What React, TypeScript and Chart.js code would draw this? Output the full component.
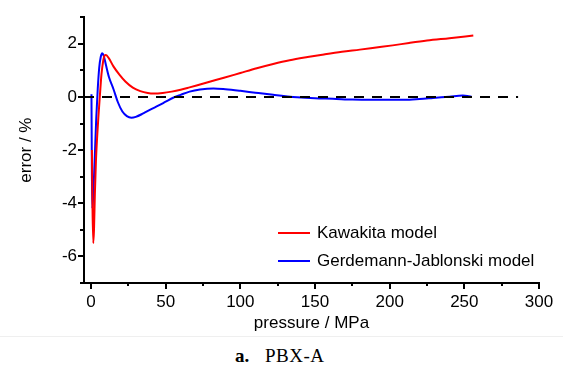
import { useEffect, useRef } from 'react';
import { Chart, registerables } from 'chart.js';

Chart.register(...registerables);

const seriesNames = ['Kawakita model', 'Gerdemann-Jablonski model'];
const seriesColors = ['#ff0000', '#0000ff'];

const kawakitaX = [0.6, 1.0, 1.5, 2.0, 2.6, 3.3, 4.0, 5.0, 6.0, 7.0, 8.0, 9.0, 10.0, 12, 15, 19, 23, 28, 33, 38, 42, 48, 54, 60, 66, 73, 80, 89, 100, 111, 122, 133, 145, 156, 168, 180, 191, 202, 213, 225, 240, 256];
const kawakitaY = [-2.0, -4.2, -5.5, -5.0, -3.6, -2.4, -1.6, -0.7, 0.1, 0.85, 1.3, 1.55, 1.58, 1.45, 1.15, 0.84, 0.58, 0.35, 0.22, 0.15, 0.13, 0.15, 0.2, 0.27, 0.36, 0.47, 0.58, 0.72, 0.9, 1.08, 1.24, 1.38, 1.5, 1.6, 1.7, 1.78, 1.86, 1.94, 2.03, 2.12, 2.21, 2.31];

const gjX = [0.3, 0.5, 0.8, 1.2, 2.0, 2.7, 3.5, 4.5, 5.5, 6.5, 7.5, 8.5, 10, 12, 15, 18, 21, 24, 27, 30, 35, 40, 45, 50, 55, 60, 66, 73, 82, 90, 100, 110, 122, 138, 150, 162, 175, 187, 200, 210, 220, 229, 240, 249, 252, 255];
const gjY = [0.1, -2.0, -4.2, -4.0, -3.0, -2.0, -0.8, 0.3, 1.1, 1.5, 1.64, 1.55, 1.2, 0.75, 0.3, -0.2, -0.55, -0.72, -0.78, -0.75, -0.62, -0.47, -0.33, -0.18, -0.03, 0.08, 0.2, 0.28, 0.32, 0.29, 0.23, 0.16, 0.08, -0.01, -0.05, -0.07, -0.1, -0.11, -0.11, -0.11, -0.08, -0.04, 0.01, 0.05, 0.04, 0.0];

const zeroLineX = [-4.7, 286];
const zeroLineY = [0, 0];

const xMin = -4.7;
const xMax = 300;
const yMin = -7;
const yMax = 3;
const xTickLabels = [0, 50, 100, 150, 200, 250, 300];
const xMinorTicks = [25, 75, 125, 175, 225, 275];
const yTickLabels = [-6, -4, -2, 0, 2];
const yMinorTicks = [-7, -5, -3, -1, 1, 3];

const FONT = '"Liberation Sans", Arial, sans-serif';

const toPts = (xs: number[], ys: number[]) => xs.map((x, i) => ({ x, y: ys[i] }));

const tickPlugin = {
  id: 'tickMarks',
  afterDraw(chart: any) {
    const { ctx, chartArea } = chart;
    const xs = chart.scales.x;
    const ys = chart.scales.y;
    ctx.save();
    ctx.strokeStyle = '#000';
    ctx.lineWidth = 2;
    ctx.beginPath();
    xTickLabels.forEach((v) => {
      const p = Math.round(xs.getPixelForValue(v));
      ctx.moveTo(p, chartArea.bottom);
      ctx.lineTo(p, chartArea.bottom + 6);
    });
    xMinorTicks.forEach((v) => {
      const p = Math.round(xs.getPixelForValue(v));
      ctx.moveTo(p, chartArea.bottom);
      ctx.lineTo(p, chartArea.bottom + 3);
    });
    yTickLabels.forEach((v) => {
      const p = Math.round(ys.getPixelForValue(v));
      ctx.moveTo(chartArea.left, p);
      ctx.lineTo(chartArea.left - 6, p);
    });
    yMinorTicks.forEach((v) => {
      const p = Math.round(ys.getPixelForValue(v));
      ctx.moveTo(chartArea.left, p);
      ctx.lineTo(chartArea.left - 4, p);
    });
    ctx.stroke();

    // legend
    ctx.font = `17px ${FONT}`;
    ctx.textBaseline = 'middle';
    ctx.textAlign = 'left';
    seriesNames.forEach((name, i) => {
      const y = chartArea.bottom - 50 + i * 28;
      const x0 = chartArea.right - 261;
      ctx.strokeStyle = seriesColors[i];
      ctx.lineWidth = 2;
      ctx.beginPath();
      ctx.moveTo(x0, y);
      ctx.lineTo(x0 + 32, y);
      ctx.stroke();
      ctx.fillStyle = '#000';
      ctx.fillText(name, x0 + 39, y);
    });
    ctx.restore();
  },
};

export default function App() {
  const canvasRef = useRef<HTMLCanvasElement | null>(null);

  useEffect(() => {
    const canvas = canvasRef.current;
    if (!canvas) return;
    const chart = new Chart(canvas, {
      type: 'scatter',
      data: {
        datasets: [
          {
            label: 'zero',
            data: toPts(zeroLineX, zeroLineY),
            showLine: true,
            borderColor: '#000',
            borderWidth: 2,
            borderDash: [10, 8],
            pointRadius: 0,
          },
          {
            label: seriesNames[0],
            data: toPts(kawakitaX, kawakitaY),
            showLine: true,
            borderColor: seriesColors[0],
            borderWidth: 2,
            pointRadius: 0,
            cubicInterpolationMode: 'monotone',
          },
          {
            label: seriesNames[1],
            data: toPts(gjX, gjY),
            showLine: true,
            borderColor: seriesColors[1],
            borderWidth: 2,
            pointRadius: 0,
            cubicInterpolationMode: 'monotone',
          },
        ],
      },
      options: {
        animation: false,
        responsive: false,
        devicePixelRatio: 1,
        layout: { padding: { top: 11, right: 24, left: 0, bottom: 0 } },
        plugins: { legend: { display: false }, tooltip: { enabled: false } },
        scales: {
          x: {
            type: 'linear',
            min: xMin,
            max: xMax,
            grid: { display: false, drawTicks: false },
            border: { display: true, color: '#000', width: 2 },
            ticks: { padding: 9, color: '#000', font: { family: FONT, size: 17 }, maxRotation: 0, autoSkip: false },
            afterBuildTicks: (s: any) => {
              s.ticks = xTickLabels.map((v) => ({ value: v }));
            },
            afterFit: (s: any) => {
              s.height = 53;
            },
            title: {
              display: true,
              text: 'pressure / MPa',
              color: '#000',
              font: { family: FONT, size: 17 },
              padding: { top: 0, bottom: 2 },
            },
          },
          y: {
            type: 'linear',
            min: yMin,
            max: yMax,
            grid: { display: false, drawTicks: false },
            border: { display: true, color: '#000', width: 2 },
            ticks: { padding: 7, color: '#000', font: { family: FONT, size: 17 }, autoSkip: false },
            afterBuildTicks: (s: any) => {
              s.ticks = yTickLabels.map((v) => ({ value: v }));
            },
            afterFit: (s: any) => {
              s.width = 84;
            },
            title: {
              display: true,
              text: 'error / %',
              color: '#000',
              font: { family: FONT, size: 17 },
              padding: { top: 16, bottom: 0 },
            },
          },
        },
      },
      plugins: [tickPlugin],
    } as any);
    return () => chart.destroy();
  }, []);

  return (
    <div style={{ position: 'fixed', left: 0, top: 0, width: 563, height: 367, background: '#fff' }}>
      <canvas ref={canvasRef} width={563} height={336} style={{ display: 'block', width: 563, height: 336 }} />
      <div style={{ position: 'absolute', left: 0, top: 336, width: 563, height: 1, background: '#efefef' }} />
      <div
        style={{
          position: 'absolute',
          left: 235,
          top: 346,
          fontFamily: '"Liberation Serif", "DejaVu Serif", serif',
          fontSize: 19,
          lineHeight: '19px',
          color: '#000',
          whiteSpace: 'pre',
        }}
      >
        <b style={{ display: 'inline-block', width: 30 }}>a.</b>
        <span style={{ letterSpacing: 0.5 }}>PBX-A</span>
      </div>
    </div>
  );
}
